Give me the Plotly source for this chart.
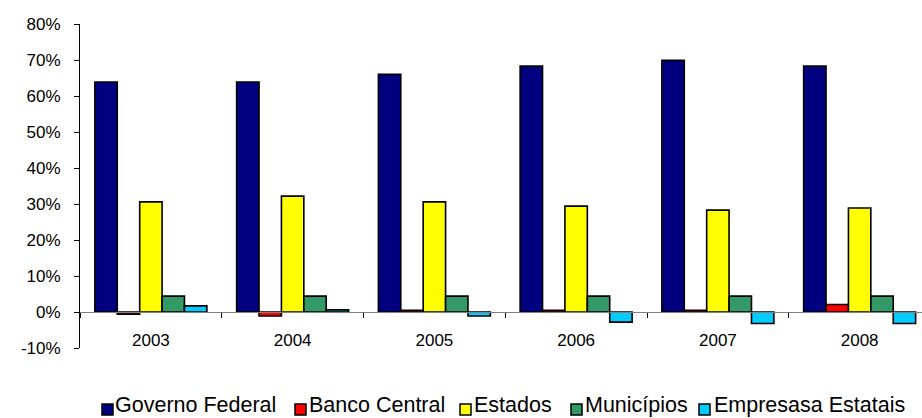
import plotly.graph_objects as go

# Shares of public-sector debt by entity, 2003-2008
years = ["2003", "2004", "2005", "2006", "2007", "2008"]
governo_federal = [0.639, 0.639, 0.660, 0.683, 0.699, 0.683]
banco_central = [-0.006, -0.011, 0.005, 0.005, 0.005, 0.021]
estados = [0.306, 0.322, 0.306, 0.294, 0.283, 0.289]
municipios = [0.044, 0.044, 0.044, 0.044, 0.044, 0.044]
empresas_estatais = [0.017, 0.006, -0.011, -0.028, -0.032, -0.032]

series_names = ["Governo Federal", "Banco Central", "Estados", "Municípios", "Empresasa Estatais"]
series_values = [governo_federal, banco_central, estados, municipios, empresas_estatais]
series_colors = ["#000080", "#FF0000", "#FFFF00", "#339966", "#00CCFF"]

y_tick_values = [-0.1, 0.0, 0.1, 0.2, 0.3, 0.4, 0.5, 0.6, 0.7, 0.8]
y_tick_labels = ["-10%", "0%", "10%", "20%", "30%", "40%", "50%", "60%", "70%", "80%"]

FONT = "Liberation Sans, Arial, sans-serif"
W, H = 922, 418
M_L, M_R, M_T, M_B = 80, 0, 24, 70
PLOT_W = W - M_L - M_R
PLOT_H = H - M_T - M_B

fig = go.Figure()
for name, vals, color in zip(series_names, series_values, series_colors):
    fig.add_trace(go.Bar(
        x=years, y=vals, name=name,
        marker=dict(color=color, line=dict(color="black", width=1.6)),
    ))

y_min, y_max = y_tick_values[0], y_tick_values[-1]
zero_pos = (0 - y_min) / (y_max - y_min)


def px_x(px):
    return (px - M_L) / PLOT_W


def px_y(py):
    return (H - M_B - py) / PLOT_H


# Horizontal legend row beneath the axis: swatch left edges and label starts (px)
swatch_left = [102, 295, 460, 571, 699]
label_left = [114, 308, 473, 584, 713]
swatch_size = 11
swatch_top = 404
label_bottom = 417.5

shapes = []
annotations = []
for name, color, sx, lx in zip(series_names, series_colors, swatch_left, label_left):
    shapes.append(dict(
        type="rect", xref="paper", yref="paper",
        x0=px_x(sx), x1=px_x(sx + swatch_size),
        y0=px_y(swatch_top + swatch_size), y1=px_y(swatch_top),
        fillcolor=color, line=dict(color="black", width=1.5), layer="above",
    ))
    annotations.append(dict(
        text=name, xref="paper", yref="paper",
        x=px_x(lx), y=px_y(label_bottom), xanchor="left", yanchor="bottom",
        showarrow=False, font=dict(family=FONT, size=21.5, color="black"),
        borderpad=0,
    ))

fig.update_layout(
    width=W, height=H,
    margin=dict(l=M_L, r=M_R, t=M_T, b=M_B),
    paper_bgcolor="white", plot_bgcolor="white",
    barmode="group", bargap=0.21, bargroupgap=0,
    font=dict(family=FONT, size=17, color="black"),
    showlegend=False,
    shapes=shapes,
    annotations=annotations,
    xaxis=dict(
        type="category", range=[-0.5, 5.44],
        anchor="free", position=zero_pos,
        showline=True, linecolor="#808080", linewidth=1,
        ticks="outside", tickson="boundaries", ticklen=5, tickcolor="black",
        showgrid=False, zeroline=False,
        ticklabelstandoff=13,
    ),
    yaxis=dict(
        range=[y_min, y_max],
        tickvals=y_tick_values, ticktext=y_tick_labels,
        showline=True, linecolor="black", linewidth=1,
        ticks="outside", ticklen=5, tickcolor="black",
        showgrid=False, zeroline=False,
        ticklabelstandoff=10,
    ),
)

fig.write_html("out.html")
